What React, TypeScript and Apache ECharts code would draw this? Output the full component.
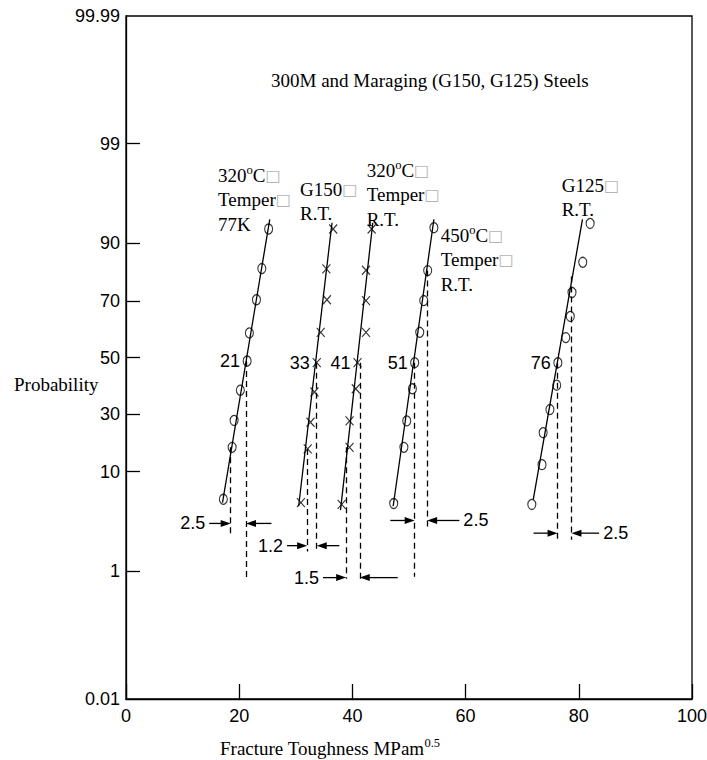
import React, { useEffect, useRef } from 'react';
import * as echarts from 'echarts';

// ---------- axis definitions ----------
const probTicks = [0.01, 1, 10, 30, 50, 70, 90, 99, 99.99];
const probTickLabels = ['0.01', '1', '10', '30', '50', '70', '90', '99', '99.99'];
// relative height (0..100) of each probability tick on the paper
const probTickHeights = [0, 18.7, 33.3, 41.7, 50, 58.3, 66.7, 81.3, 100];
const xMin = 0;
const xMax = 100;
const xInterval = 20;

// ---------- data (x = fracture toughness, p = cumulative probability %) ----------
// 320°C temper, 77K (circles)
const g1X = [17.2, 18.75, 19.1, 20.2, 21.4, 21.8, 23.05, 24.0, 25.2];
const g1P = [5.8, 16.8, 27.2, 38.1, 48.7, 59.0, 70.5, 82.9, 92.4];
// G150, R.T. (crosses)
const g2X = [30.9, 32.1, 32.6, 33.3, 33.7, 34.4, 35.5, 35.4, 36.6];
const g2P = [5.4, 16.3, 26.4, 37.5, 48.1, 59.2, 70.5, 82.8, 92.4];
// 320°C temper, R.T. (crosses)
const g3X = [38.1, 39.5, 39.5, 40.6, 40.9, 42.4, 42.4, 42.4, 43.4];
const g3P = [5.2, 16.8, 27.0, 38.6, 48.1, 59.2, 70.1, 82.3, 92.4];
// 450°C temper, R.T. (circles)
const g4X = [47.3, 49.1, 49.6, 50.6, 51.0, 51.9, 52.6, 53.3, 54.4];
const g4P = [5.3, 16.8, 27.0, 38.6, 48.1, 59.2, 70.1, 82.2, 92.6];
// G125, R.T. (circles)
const g5X = [71.7, 73.5, 73.7, 74.9, 76.1, 76.3, 77.7, 78.5, 78.8, 80.7, 82.0];
const g5P = [5.2, 11.7, 22.1, 31.5, 39.9, 48.1, 57.3, 64.8, 73.7, 84.9, 93.2];

const groupMedians = ['21', '33', '41', '51', '76'];

// fitted lines (bottom and top end)
const fitX1 = [17.05, 30.5, 37.9, 47.2, 71.95];
const fitP1 = [5.4, 5.0, 4.6, 5.0, 5.75];
const fitX2 = [25.4, 36.4, 43.6, 54.4, 80.65];
const fitP2 = [93.75, 93.3, 93.3, 93.75, 93.75];

// dashed vertical reference lines
const dashX = [18.5, 21.2, 32.0, 33.7, 38.9, 41.3, 51.0, 53.2, 76.25, 78.7];
const dashTopP = [16.8, 48.7, 16.3, 48.1, 16.8, 48.1, 48.1, 82.2, 48.1, 80.1];
const dashBotP = [2.6, 0.82, 1.7, 1.7, 0.8, 0.8, 0.85, 3.1, 2.3, 2.3];

// spread arrows
const spreadP = [3.4, 1.98, 0.83, 3.64, 2.7];
const leftFrom = [14.7, 28.45, 34.8, 46.7, 72.0];
const leftTo = [18.5, 32.0, 38.9, 51.0, 76.25];
const rightFrom = [25.7, 37.7, 48.0, 58.9, 83.6];
const rightTo = [21.2, 33.7, 41.3, 53.2, 78.7];
const spreadLabels = ['2.5', '1.2', '1.5', '2.5', '2.5'];
const spreadLabelSide = ['left', 'left', 'left', 'right', 'right'];

// ---------- probability scale ----------
function normInv(p: number): number {
  const a = [-3.969683028665376e1, 2.209460984245205e2, -2.759285104469687e2, 1.38357751867269e2, -3.066479806614716e1, 2.506628277459239];
  const b = [-5.447609879822406e1, 1.615858368580409e2, -1.556989798598866e2, 6.680131188771972e1, -1.328068155288572e1];
  const c = [-7.784894002430293e-3, -3.223964580411365e-1, -2.400758277161838, -2.549732539343734, 4.374664141464968, 2.938163982698783];
  const d = [7.784695709041462e-3, 3.224671290700398e-1, 2.445134137142996, 3.754408661907416];
  const pl = 0.02425;
  if (p < pl) {
    const q = Math.sqrt(-2 * Math.log(p));
    return (((((c[0] * q + c[1]) * q + c[2]) * q + c[3]) * q + c[4]) * q + c[5]) / ((((d[0] * q + d[1]) * q + d[2]) * q + d[3]) * q + 1);
  }
  if (p <= 1 - pl) {
    const q = p - 0.5;
    const r = q * q;
    return ((((((a[0] * r + a[1]) * r + a[2]) * r + a[3]) * r + a[4]) * r + a[5]) * q) / (((((b[0] * r + b[1]) * r + b[2]) * r + b[3]) * r + b[4]) * r + 1);
  }
  const q = Math.sqrt(-2 * Math.log(1 - p));
  return -(((((c[0] * q + c[1]) * q + c[2]) * q + c[3]) * q + c[4]) * q + c[5]) / ((((d[0] * q + d[1]) * q + d[2]) * q + d[3]) * q + 1);
}
const knotZ = probTicks.map((t) => normInv(t / 100));
function pos(p: number): number {
  const z = normInv(p / 100);
  let i = 0;
  while (i < knotZ.length - 2 && z > knotZ[i + 1]) i++;
  const t = (z - knotZ[i]) / (knotZ[i + 1] - knotZ[i]);
  return probTickHeights[i] + t * (probTickHeights[i + 1] - probTickHeights[i]);
}

// ---------- styles ----------
const SERIF = '"Liberation Serif", "Times New Roman", Times, serif';
const SANS = '"Liberation Sans", Arial, Helvetica, sans-serif';
const BLACK = '#000';
const LW = 1.3;

const richSerif = {
  n: { fontFamily: SERIF, fontSize: 19, lineHeight: 24.5, fill: BLACK },
  s: { fontFamily: SERIF, fontSize: 12.5, lineHeight: 14, verticalAlign: 'top', fill: BLACK },
  b: { fontFamily: '"DejaVu Sans", sans-serif', fontSize: 16, lineHeight: 24.5, fill: '#b4b4b4' },
};

function serifText(x: number, yTop: number, text: string) {
  return {
    type: 'text',
    x,
    y: yTop,
    silent: true,
    style: { text, rich: richSerif, align: 'left', verticalAlign: 'top', fill: BLACK, fontFamily: SERIF, fontSize: 19 },
  };
}

const groups = [
  { x: g1X, p: g1P, mark: 'o' },
  { x: g2X, p: g2P, mark: 'x' },
  { x: g3X, p: g3P, mark: 'x' },
  { x: g4X, p: g4P, mark: 'o' },
  { x: g5X, p: g5P, mark: 'o' },
];

const CROSS = 'path://M0,0L10,10M10,0L0,10';
const HEAD_LEN = 10;
const HEAD_HALF = 3.5;

function medianIndex(p: number[]) {
  let m = 0;
  p.forEach((v, i) => {
    if (Math.abs(v - 50) < Math.abs(p[m] - 50)) m = i;
  });
  return m;
}

function buildOption() {
  const series: any[] = [];
  groups.forEach((g, gi) => {
    const lineMarks: any[] = [];
    [gi * 2, gi * 2 + 1].forEach((k) => {
      lineMarks.push([
        { coord: [dashX[k], pos(dashTopP[k])], symbol: 'none' },
        { coord: [dashX[k], pos(dashBotP[k])], symbol: 'none' },
      ]);
    });

    series.push({
      type: 'line',
      data: [
        [fitX1[gi], pos(fitP1[gi])],
        [fitX2[gi], pos(fitP2[gi])],
      ],
      symbol: 'none',
      lineStyle: { color: BLACK, width: LW },
      silent: true,
      z: 2,
      markLine: {
        silent: true,
        symbol: ['none', 'none'],
        label: { show: false },
        lineStyle: { color: BLACK, width: LW, type: [6, 4] },
        emphasis: { disabled: true },
        data: lineMarks,
      },
    });

    series.push({
      type: 'scatter',
      symbol: g.mark === 'o' ? 'circle' : CROSS,
      symbolSize: g.mark === 'o' ? [8, 10] : [8, 9],
      itemStyle: { color: 'rgba(0,0,0,0)', borderColor: BLACK, borderWidth: 1.2 },
      silent: true,
      z: 3,
      data: g.x.map((x, i) => [x, pos(g.p[i])]),
    });
  });

  // spread arrows with their values, and the median values
  series.push({
    type: 'custom',
    silent: true,
    z: 4,
    data: spreadP.map((p, i) => [leftTo[i], pos(p)]),
    renderItem: (params: any, api: any) => {
      const i = params.dataIndex;
      const y = api.coord([0, pos(spreadP[i])])[1];
      const lf = api.coord([leftFrom[i], 0])[0];
      const lt = api.coord([leftTo[i], 0])[0];
      const rf = api.coord([rightFrom[i], 0])[0];
      const rt = api.coord([rightTo[i], 0])[0];
      const stroke = { stroke: BLACK, lineWidth: LW };
      const g = groups[i];
      const m = medianIndex(g.p);
      const med = api.coord([g.x[m], pos(g.p[m])]);
      const labelLeft = spreadLabelSide[i] === 'left';
      return {
        type: 'group',
        children: [
          { type: 'line', shape: { x1: lf, y1: y, x2: lt - HEAD_LEN + 1, y2: y }, style: stroke },
          { type: 'polygon', shape: { points: [[lt, y], [lt - HEAD_LEN, y - HEAD_HALF], [lt - HEAD_LEN, y + HEAD_HALF]] }, style: { fill: BLACK } },
          { type: 'line', shape: { x1: rf, y1: y, x2: rt + HEAD_LEN - 1, y2: y }, style: stroke },
          { type: 'polygon', shape: { points: [[rt, y], [rt + HEAD_LEN, y - HEAD_HALF], [rt + HEAD_LEN, y + HEAD_HALF]] }, style: { fill: BLACK } },
          {
            type: 'text',
            x: labelLeft ? lf - 4 : rf + 4,
            y: y,
            style: { text: spreadLabels[i], align: labelLeft ? 'right' : 'left', verticalAlign: 'middle', fontSize: 18, fontFamily: SANS, fill: BLACK },
          },
          {
            type: 'text',
            x: med[0] - 7,
            y: med[1],
            style: { text: groupMedians[i], align: 'right', verticalAlign: 'middle', fontSize: 18, fontFamily: SANS, fill: BLACK },
          },
        ],
      };
    },
  });

  return {
    animation: false,
    backgroundColor: '#fff',
    grid: {
      left: 126,
      right: 15,
      top: 16,
      bottom: 61,
      show: true,
      borderColor: BLACK,
      borderWidth: LW,
      containLabel: false,
      outerBoundsMode: 'none',
    },
    xAxis: {
      type: 'value',
      min: xMin,
      max: xMax,
      interval: xInterval,
      axisLine: { show: true, lineStyle: { color: BLACK, width: LW } },
      axisTick: { show: true, inside: true, length: 15, lineStyle: { color: BLACK, width: LW } },
      axisLabel: { color: BLACK, fontSize: 18, fontFamily: SANS, margin: 8 },
      splitLine: { show: false },
    },
    yAxis: {
      type: 'value',
      min: 0,
      max: 100,
      axisLine: { show: true, lineStyle: { color: BLACK, width: LW } },
      axisTick: {
        show: true,
        inside: true,
        length: 14,
        lineStyle: { color: BLACK, width: LW },
        customValues: probTickHeights.slice(1, -1),
      },
      axisLabel: {
        color: BLACK,
        fontSize: 18,
        fontFamily: SANS,
        margin: 6,
        customValues: probTickHeights,
        showMinLabel: true,
        showMaxLabel: true,
        formatter: (v: number) => {
          let best = 0;
          probTickHeights.forEach((h, i) => {
            if (Math.abs(h - v) < Math.abs(probTickHeights[best] - v)) best = i;
          });
          return probTickLabels[best];
        },
      },
      splitLine: { show: false },
    },
    graphic: [
      {
        type: 'text',
        x: 271,
        y: 80,
        silent: true,
        style: { text: '300M and Maraging (G150, G125) Steels', fontFamily: SERIF, fontSize: 19, fill: BLACK, verticalAlign: 'middle' },
      },
      {
        type: 'text',
        x: 14,
        y: 384,
        silent: true,
        style: { text: 'Probability', fontFamily: SERIF, fontSize: 19, fill: BLACK, verticalAlign: 'middle' },
      },
      {
        type: 'text',
        x: 220,
        y: 736,
        silent: true,
        style: { text: '{n|Fracture Toughness MPam}{s|0.5}', rich: richSerif, verticalAlign: 'top', fontFamily: SERIF, fontSize: 19 },
      },
      serifText(218, 163, '{n|320}{s|o}{n|C}{b|□}\n{n|Temper}{b|□}\n{n|77K}'),
      serifText(300, 177, '{n|G150}{b|□}\n{n|R.T.}'),
      serifText(366.7, 158, '{n|320}{s|o}{n|C}{b|□}\n{n|Temper}{b|□}\n{n|R.T.}'),
      serifText(440.7, 223, '{n|450}{s|o}{n|C}{b|□}\n{n|Temper}{b|□}\n{n|R.T.}'),
      serifText(561.7, 173, '{n|G125}{b|□}\n{n|R.T.}'),
    ],
    series,
  };
}

export default function App() {
  const ref = useRef<HTMLDivElement>(null);
  useEffect(() => {
    if (!ref.current) return;
    const chart = echarts.init(ref.current, null, { renderer: 'svg' });
    chart.setOption(buildOption() as any);
    return () => chart.dispose();
  }, []);
  return (
    <div
      ref={ref}
      style={{ position: 'absolute', left: 0, top: 0, width: 707, height: 760, background: '#fff' }}
    />
  );
}
